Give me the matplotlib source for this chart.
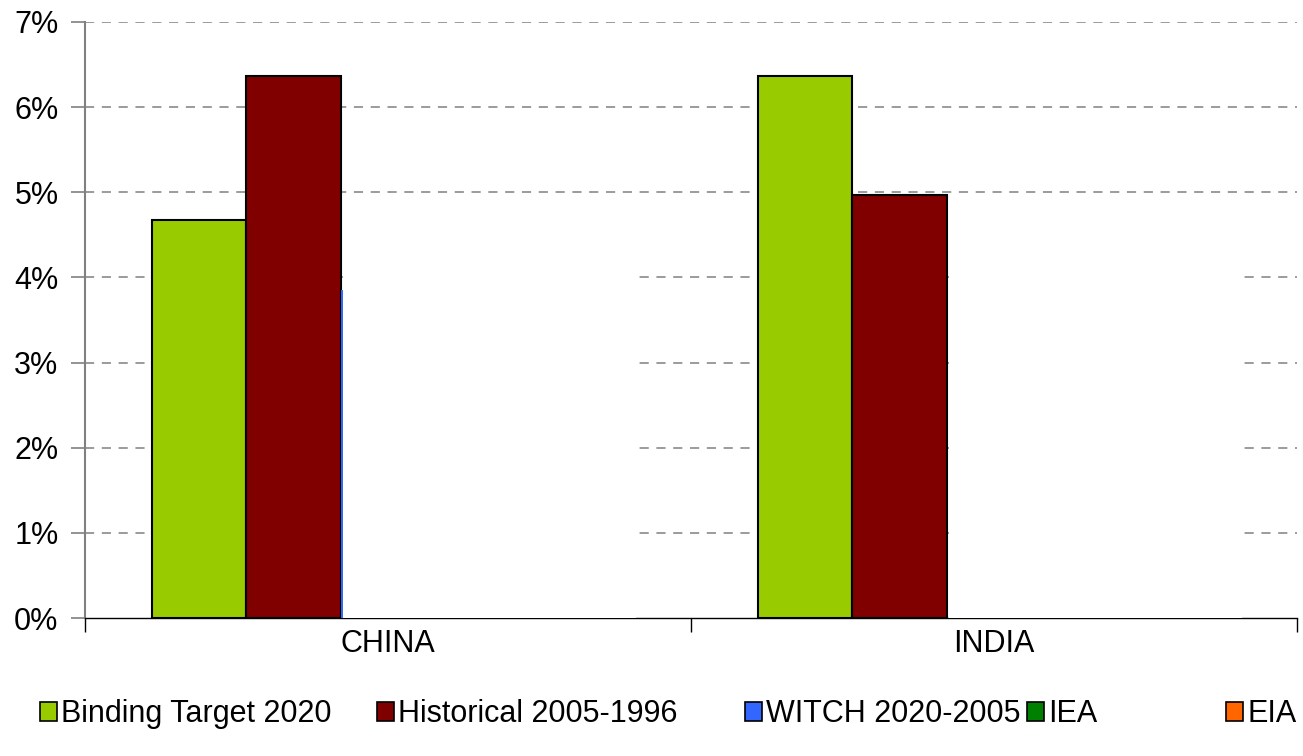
import numpy as np
import matplotlib
matplotlib.use("Agg")
import matplotlib.pyplot as plt
from matplotlib.patches import Patch
from matplotlib.ticker import FuncFormatter

plt.rcParams['font.family'] = ['Liberation Sans', 'DejaVu Sans']

# data (percent)
countries = ['CHINA', 'INDIA']
target_2020 = [4.67, 6.37]
historical = [6.37, 4.97]
witch = [3.85, 4.80]
iea = [4.50, 4.50]
eia = [4.50, 4.50]
y_ticks = [0, 1, 2, 3, 4, 5, 6, 7]

series_names = ['Binding Target 2020', 'Historical 2005-1996', 'WITCH 2020-2005', 'IEA', 'EIA']
series_colors = ['#99CC00', '#800000', '#3366FF', '#008000', '#FF6600']

fig = plt.figure(figsize=(13.03, 7.56), dpi=100)
ax = fig.add_axes([0.0652, 0.1825, 0.9302, 0.7884])

x = np.arange(len(countries))
w = 0.156

# visible bars
ax.bar(x - 2 * w, target_2020, w, color=series_colors[0], edgecolor='black', linewidth=1.5, zorder=3)
ax.bar(x - w, historical, w, color=series_colors[1], edgecolor='black', linewidth=1.5, zorder=3)
# WITCH only shows as a thin sliver for China, the rest is blanked out as in the source
ax.bar(x[:1] - 0.5 * w, witch[:1], 0.004, align='edge', color=series_colors[2], edgecolor='none', zorder=3)
# blanked-out series: white block over the WITCH / IEA / EIA slots
hidden_top = np.max([witch, iea, eia], axis=0)
ax.bar(x - 0.5 * w + 0.004, hidden_top + 0.03, 3 * w + 0.016,
       bottom=-0.03, align='edge', color='white', edgecolor='none', zorder=3)

ax.set_xlim(-0.5, 1.5)
ax.set_ylim(0, 7)
ax.set_yticks(y_ticks)
ax.yaxis.set_major_formatter(FuncFormatter(lambda v, p: f'{v:.0f}%'))
# dashed gridlines (not at 0, where the axis line sits)
for t in y_ticks[1:]:
    ax.axhline(t, color='#808080', linestyle=(0, (6, 5)), linewidth=1.1, zorder=1)

ax.set_xticks(x)
ax.set_xticklabels(countries)
ax.set_xticks([-0.5, 0.5, 1.5], minor=True)
ax.tick_params(axis='x', which='major', length=0, pad=8, labelsize=22)
ax.tick_params(axis='x', which='minor', length=10, color='black', width=1, direction='out')
ax.tick_params(axis='y', length=10, color='#808080', width=1.2, pad=9, labelsize=22, direction='out')

for s in ['top', 'right']:
    ax.spines[s].set_visible(False)
ax.spines['left'].set_color('#808080')
ax.spines['left'].set_linewidth(1.5)
ax.spines['bottom'].set_color('black')
ax.spines['bottom'].set_linewidth(1.0)
ax.spines['bottom'].set_zorder(2.5)

# legend entries, placed like the original
legend_x = [40, 377, 745, 1027, 1226]
for name, col, px in zip(series_names, series_colors, legend_x):
    h = Patch(facecolor=col, edgecolor='black', linewidth=1.2)
    fig.legend(handles=[h], labels=[name], loc='center left',
               bbox_to_anchor=(px / 1303, 0.055), frameon=False, fontsize=22,
               handlelength=0.55, handleheight=0.55, handletextpad=0.15,
               borderpad=0, borderaxespad=0)

fig.savefig('out.png', dpi=100)
